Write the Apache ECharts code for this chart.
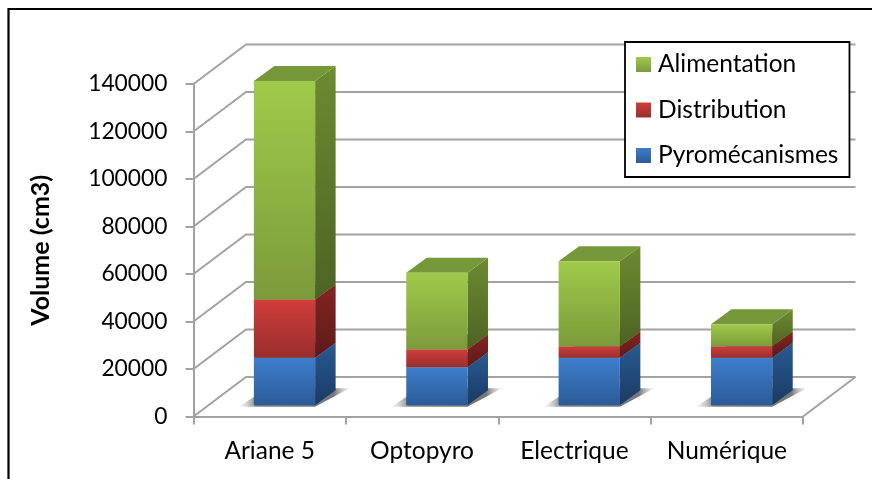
<!DOCTYPE html>
<html>
<head>
<meta charset="utf-8">
<script src="https://cdn.jsdelivr.net/npm/echarts@6/dist/echarts.min.js"></script>
<style>html,body{margin:0;padding:0;background:#fff;overflow:hidden}#c{width:872px;height:479px}</style>
</head>
<body>
<div id="c"></div>
<script>
const categories = ['Ariane 5', 'Optopyro', 'Electrique', 'Numérique'];
const pyromecanismes = [20000, 16000, 20000, 20000];
const distribution = [24500, 7500, 4700, 4800];
const alimentation = [92000, 32300, 35900, 9300];
const gridValues = [0, 20000, 40000, 60000, 80000, 100000, 120000, 140000];

const FONT = 'Lato';
const WALL = [52.5, -39.5];
const BAR_SHIFT = [14.8, -11.3];
const BAR_DEPTH = [20.5, -15];
const BAR_RATIO = 0.402;
const GRID_COLOR = '#a2a2a2';

function vgrad(a, b) {
  return new echarts.graphic.LinearGradient(0, 0, 0, 1, [
    { offset: 0, color: a }, { offset: 1, color: b }
  ]);
}
const palette = {
  Alimentation: { front: ['#a0ca4a', '#7b9b3a'], side: ['#6c8b30', '#4d6324'], top: '#76983a' },
  Distribution: { front: ['#d03e3b', '#992e2c'], side: ['#832522', '#5c1a18'], top: '#a83230' },
  'Pyromécanismes': { front: ['#3e7ecb', '#2b5b98'], side: ['#295b92', '#1a3a64'], top: '#2f66a8' }
};

function stacked(values, below) {
  return values.map((v, i) => [i, below[i], below[i] + v]);
}
const base = categories.map(() => 0);
const top1 = pyromecanismes.slice();
const top2 = pyromecanismes.map((v, i) => v + distribution[i]);

function barRenderer(name, withShadow) {
  const p = palette[name];
  return function (params, api) {
    const cat = api.value(0);
    const lo = api.coord([cat, api.value(1)]);
    const hi = api.coord([cat, api.value(2)]);
    const w = api.size([1, 0])[0] * BAR_RATIO;
    const xL = lo[0] + BAR_SHIFT[0] - w / 2;
    const xR = xL + w;
    const yB = lo[1] + BAR_SHIFT[1];
    const yT = hi[1] + BAR_SHIFT[1];
    const dx = BAR_DEPTH[0], dy = BAR_DEPTH[1];
    const children = [];
    if (withShadow) {
      children.push({
        type: 'polygon',
        shape: { points: [[xL - 15, yB + 1.5], [xR, yB + 1.5], [xR + dx + 14, yB + dy - 2], [xL + 13, yB + dy - 2]] },
        style: {
          fill: new echarts.graphic.LinearGradient(0, 0, 1, 0, [
            { offset: 0, color: 'rgba(190,190,190,0.1)' },
            { offset: 0.16, color: 'rgba(110,110,110,0.85)' },
            { offset: 0.86, color: 'rgba(95,95,95,0.85)' },
            { offset: 1, color: 'rgba(190,190,190,0.2)' }
          ])
        }
      });
    }
    children.push({
      type: 'polygon',
      shape: { points: [[xR, yB], [xR + dx, yB + dy], [xR + dx, yT + dy], [xR, yT]] },
      style: { fill: vgrad(p.side[0], p.side[1]) }
    });
    children.push({
      type: 'polygon',
      shape: { points: [[xL, yT], [xR, yT], [xR + dx, yT + dy], [xL + dx, yT + dy]] },
      style: { fill: p.top }
    });
    children.push({
      type: 'rect',
      shape: { x: xL, y: yT, width: w, height: yB - yT },
      style: { fill: vgrad(p.front[0], p.front[1]) }
    });
    return { type: 'group', children };
  };
}

function wallRenderer(params, api) {
  const v = api.value(1);
  const cs = params.coordSys;
  const y = api.coord([0, v])[1];
  const x0 = cs.x, x1 = cs.x + cs.width;
  const lineStyle = { stroke: GRID_COLOR, lineWidth: 2, fill: null };
  const children = [{
    type: 'polyline',
    shape: { points: [[x0, y], [x0 + WALL[0], y + WALL[1]], [x1 + WALL[0], y + WALL[1]]] },
    style: lineStyle
  }];
  if (v === 0) {
    children.push({
      type: 'line',
      shape: { x1: x1, y1: y, x2: x1 + WALL[0], y2: y + WALL[1] },
      style: { stroke: GRID_COLOR, lineWidth: 2 }
    });
  }
  return { type: 'group', children };
}

function barSeries(name, data, withShadow, z) {
  const p = palette[name];
  return {
    type: 'custom', name, data, z,
    renderItem: barRenderer(name, withShadow),
    encode: { x: 0, y: [1, 2] },
    itemStyle: { color: vgrad(p.front[0], p.front[1]) },
    animation: false, silent: true
  };
}

const chart = echarts.init(document.getElementById('c'), null, { renderer: 'canvas' });
chart.setOption({
  animation: false,
  backgroundColor: '#ffffff',
  grid: { left: 193.5, right: 69, top: 84, bottom: 62.5, containLabel: false },
  graphic: [{
    type: 'rect', z: 100, silent: true,
    shape: { x: 8.5, y: 9, width: 900, height: 500 },
    style: { fill: null, stroke: '#000', lineWidth: 2.2 }
  }],
  legend: {
    orient: 'vertical', left: 625, top: 42,
    data: ['Alimentation', 'Distribution', 'Pyromécanismes'],
    itemWidth: 15, itemHeight: 15, itemGap: 20.5, icon: 'rect',
    padding: [10, 11, 9, 11],
    backgroundColor: '#fff', borderColor: '#000', borderWidth: 1.8,
    textStyle: { fontFamily: FONT, fontSize: 24.5, lineHeight: 25, color: '#000', padding: [0, 0, 0, 2] },
    selectedMode: false, z: 50
  },
  xAxis: {
    type: 'category', data: categories, boundaryGap: true,
    axisLine: { show: true, lineStyle: { color: GRID_COLOR, width: 2 } },
    axisTick: { show: true, length: 8, lineStyle: { color: GRID_COLOR, width: 2 } },
    axisLabel: { fontFamily: FONT, fontSize: 24.5, color: '#000', margin: 22, interval: 0 },
    splitLine: { show: false }
  },
  yAxis: {
    type: 'value', min: 0, max: 140000, interval: 20000,
    name: 'Volume (cm3)', nameLocation: 'middle', nameGap: 140, nameRotate: 90,
    nameTextStyle: { fontFamily: FONT, fontSize: 25, fontWeight: 'bold', color: '#000' },
    axisLine: { show: true, lineStyle: { color: GRID_COLOR, width: 2 } },
    axisTick: { show: true, length: 8, lineStyle: { color: GRID_COLOR, width: 2 } },
    axisLabel: { fontFamily: FONT, fontSize: 22.8, color: '#000', margin: 26, padding: [10, 0, 0, 0], formatter: v => String(v) },
    splitLine: { show: false }
  },
  series: [
    {
      type: 'custom', name: 'wall', z: 1, silent: true, animation: false,
      data: gridValues.map(v => [0, v]),
      encode: { x: 0, y: 1 },
      renderItem: wallRenderer
    },
    barSeries('Pyromécanismes', stacked(pyromecanismes, base), true, 2),
    barSeries('Distribution', stacked(distribution, top1), false, 3),
    barSeries('Alimentation', stacked(alimentation, top2), false, 4)
  ]
});
</script>
</body>
</html>
